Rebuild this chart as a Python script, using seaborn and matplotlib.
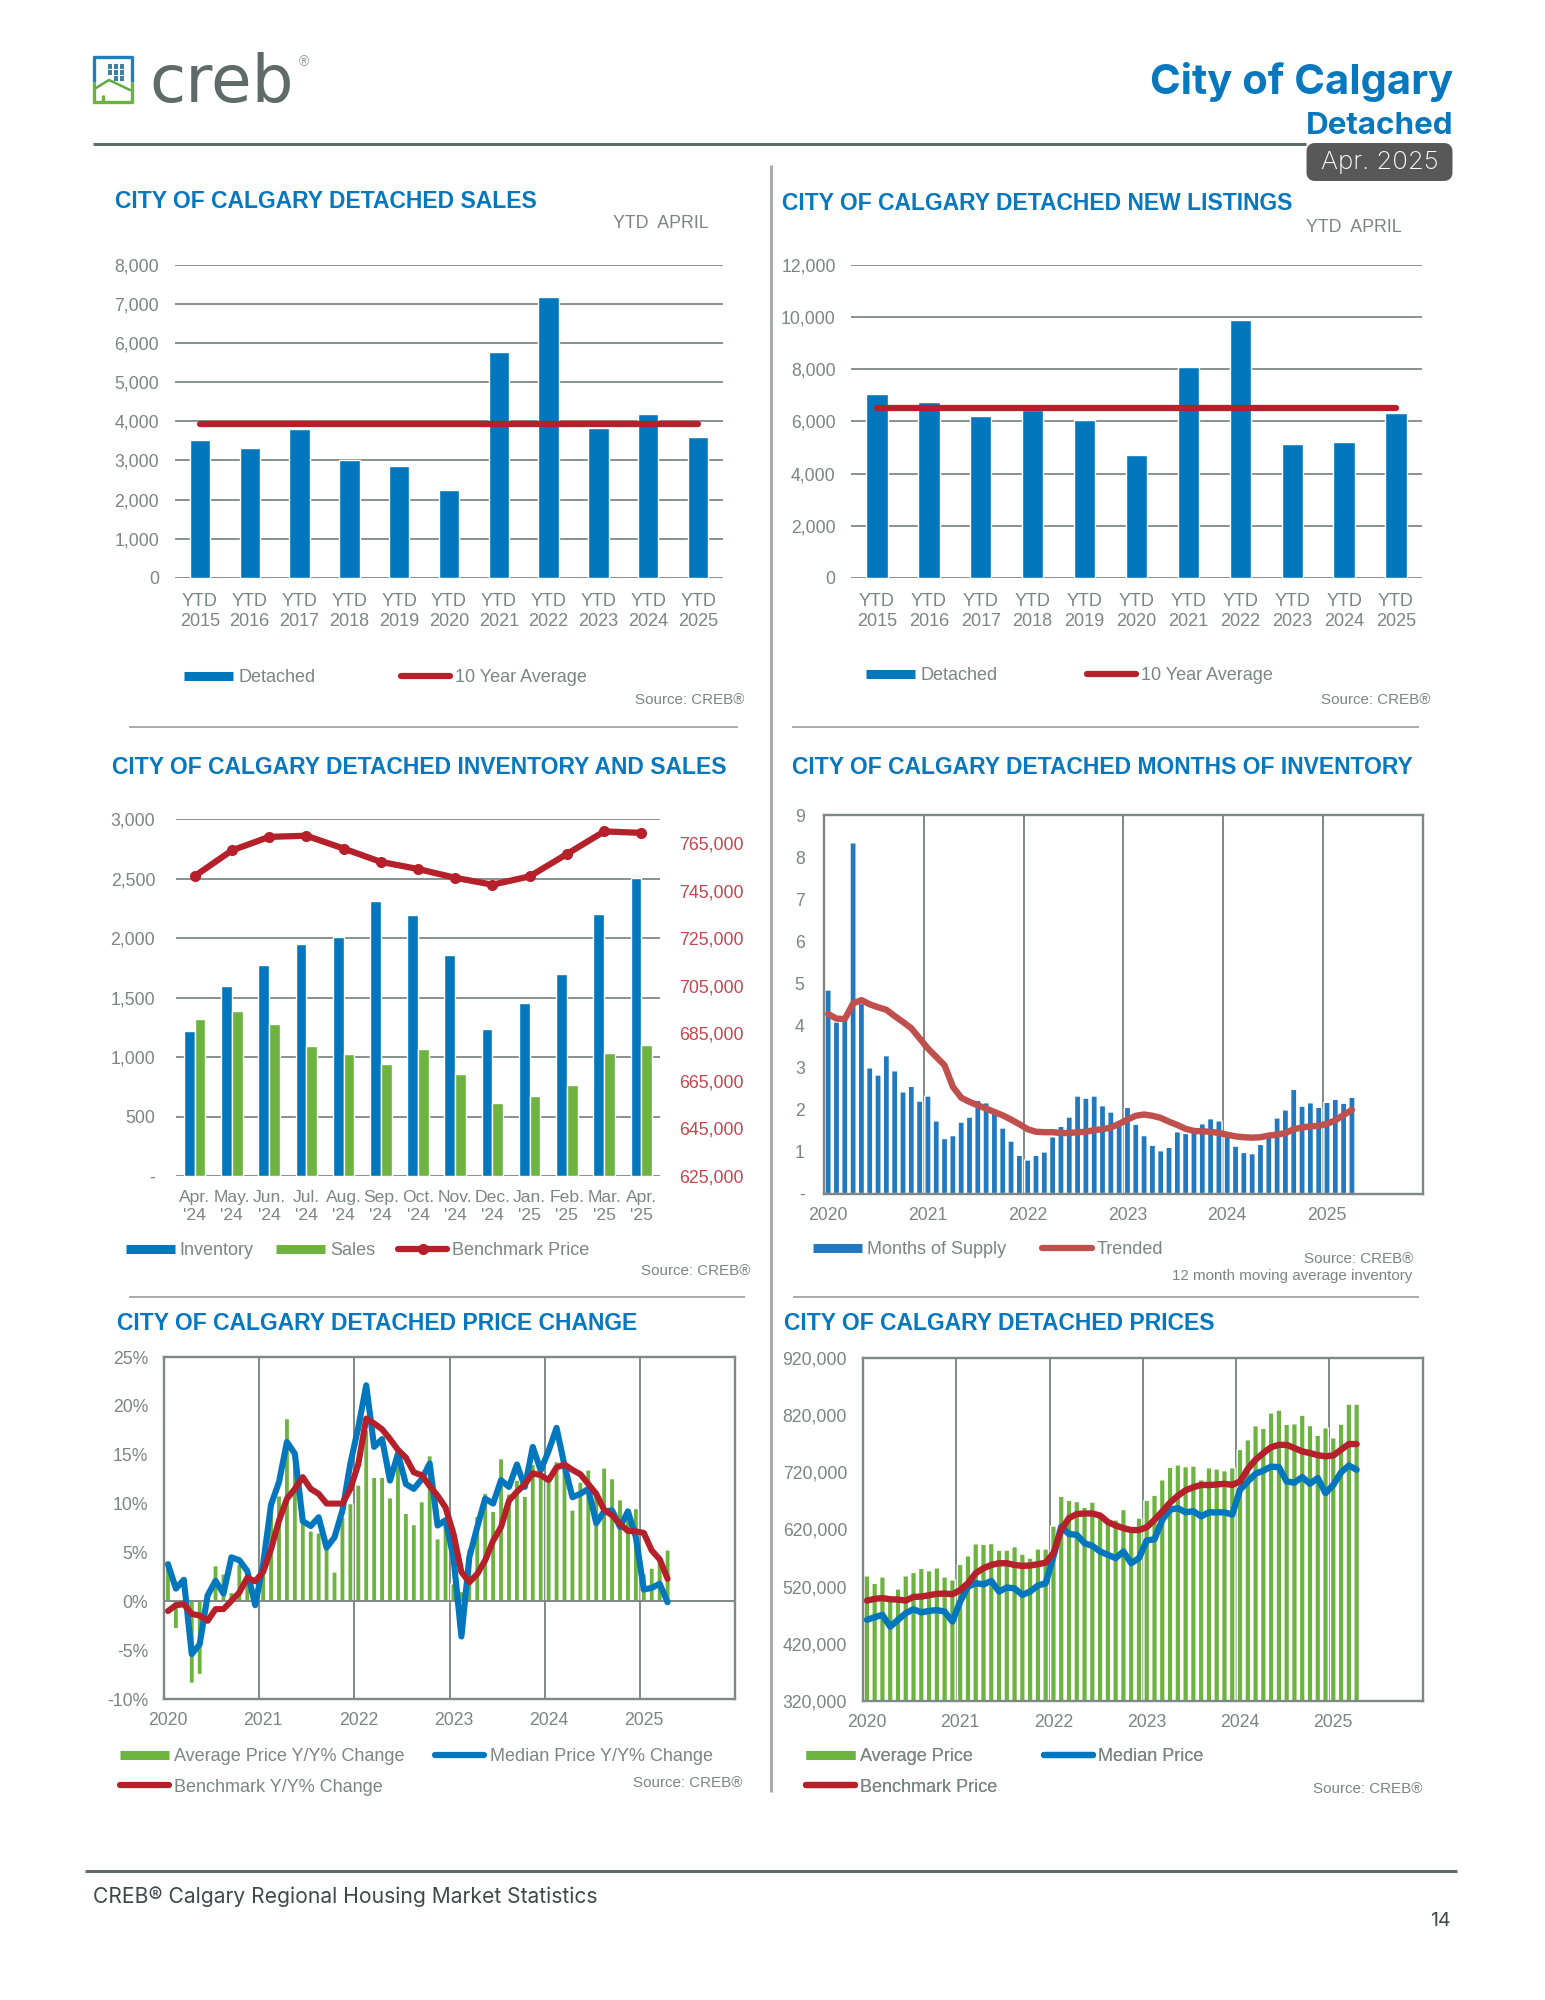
import numpy as np
import pandas as pd
import matplotlib
matplotlib.use('Agg')
import matplotlib.pyplot as plt
import seaborn as sns
from matplotlib.lines import Line2D
from matplotlib.patches import FancyBboxPatch
from matplotlib.ticker import FixedLocator

# ---- data ----
ytd_labels = ['YTD\n2015', 'YTD\n2016', 'YTD\n2017', 'YTD\n2018', 'YTD\n2019', 'YTD\n2020',
              'YTD\n2021', 'YTD\n2022', 'YTD\n2023', 'YTD\n2024', 'YTD\n2025']
ytd_sales = [3530, 3325, 3800, 3020, 2850, 2235, 5780, 7180, 3820, 4175, 3595]
ytd_sales_avg = [3920, 3920, 3920, 3920, 3920, 3920, 3920, 3920, 3920, 3920, 3920]
ytd_listings = [7060, 6750, 6200, 6450, 6050, 4700, 8085, 9880, 5130, 5195, 6325]
ytd_listings_avg = [6513, 6513, 6513, 6513, 6513, 6513, 6513, 6513, 6513, 6513, 6513]

inv_labels = ["Apr.\n'24", "May.\n'24", "Jun.\n'24", "Jul.\n'24", "Aug.\n'24", "Sep.\n'24", "Oct.\n'24",
              "Nov.\n'24", "Dec.\n'24", "Jan.\n'25", "Feb.\n'25", "Mar.\n'25", "Apr.\n'25"]
inventory = [1216, 1600, 1778, 1955, 2012, 2315, 2198, 1859, 1237, 1456, 1700, 2201, 2510]
sales = [1318, 1384, 1276, 1093, 1024, 943, 1069, 862, 610, 673, 766, 1036, 1105]
benchmark_13m = [751100, 761900, 767600, 768100, 762700, 757100, 754100, 750400, 747500, 751000, 760400, 769900, 769300]

year_labels = ['2020', '2021', '2022', '2023', '2024', '2025']

months_supply = [4.84, 4.08, 4.12, 8.34, 4.52, 2.99, 2.82, 3.28, 2.92, 2.42, 2.55, 2.20,
                 2.32, 1.73, 1.31, 1.38, 1.70, 1.82, 2.22, 2.16, 1.98, 1.56, 1.25, 0.91,
                 0.80, 0.91, 0.99, 1.35, 1.60, 1.82, 2.32, 2.27, 2.32, 2.09, 1.94, 1.66,
                 2.05, 1.65, 1.38, 1.15, 1.02, 1.10, 1.47, 1.43, 1.50, 1.66, 1.78, 1.73,
                 1.40, 1.13, 0.98, 0.95, 1.17, 1.36, 1.80, 1.99, 2.48, 2.08, 2.16, 2.05,
                 2.17, 2.24, 2.15, 2.29]
months_trend = [4.27, 4.16, 4.15, 4.52, 4.60, 4.50, 4.43, 4.37, 4.22, 4.08, 3.93, 3.69,
                3.45, 3.25, 3.05, 2.54, 2.28, 2.18, 2.10, 2.02, 1.94, 1.86, 1.76, 1.65,
                1.53, 1.47, 1.46, 1.46, 1.44, 1.44, 1.46, 1.47, 1.51, 1.53, 1.57, 1.66,
                1.76, 1.85, 1.88, 1.85, 1.80, 1.71, 1.63, 1.54, 1.49, 1.48, 1.47, 1.44,
                1.40, 1.36, 1.34, 1.33, 1.34, 1.38, 1.40, 1.44, 1.53, 1.57, 1.60, 1.61,
                1.66, 1.74, 1.87, 1.99]

avg_change = [3.8, -2.8, -0.4, -8.4, -7.5, 0.6, 3.65, 2.8, 0.9, 3.8, 2.1, 0.9,
              4.2, 10.0, 10.8, 18.7, 15.2, 9.0, 7.2, 7.0, 5.5, 3.0, 8.6, 10.0,
              11.9, 17.5, 12.7, 12.7, 10.6, 13.9, 9.0, 7.85, 10.2, 14.9, 6.4, 8.6,
              1.8, 1.0, 5.36, 8.7, 11.06, 9.2, 14.6, 11.0, 12.4, 10.75, 14.0, 12.7,
              12.2, 14.3, 13.9, 9.35, 12.2, 13.45, 11.3, 13.65, 12.56, 10.4, 9.3, 9.5,
              2.8, 3.4, 4.6, 5.26]
median_change = [3.8, 1.3, 2.2, -5.4, -4.4, 0.6, 2.1, 0.8, 4.5, 4.2, 3.1, -0.4,
                 3.8, 9.9, 12.2, 16.3, 15.1, 8.2, 7.7, 8.6, 5.5, 6.55, 9.3, 14.1,
                 17.8, 22.1, 15.8, 16.6, 12.35, 15.1, 12.0, 11.5, 12.5, 14.1, 7.75, 8.3,
                 4.5, -3.6, 4.5, 7.6, 10.5, 10.0, 12.4, 11.7, 14.0, 11.7, 15.8, 13.4,
                 15.4, 17.75, 13.9, 10.65, 11.0, 11.5, 8.0, 9.2, 9.3, 7.6, 9.2, 6.55,
                 1.2, 1.37, 1.8, -0.1]
bench_change = [-1.0, -0.4, -0.3, -1.3, -1.45, -2.0, -0.8, -0.8, 0.05, 0.9, 2.4, 2.05,
                3.0, 5.35, 8.25, 10.5, 11.5, 12.7, 11.5, 11.0, 10.0, 10.0, 10.0, 11.5,
                14.05, 18.7, 18.2, 17.6, 16.6, 15.5, 14.7, 13.2, 12.9, 11.8, 10.8, 9.6,
                6.9, 3.0, 1.95, 2.8, 4.2, 6.2, 7.6, 10.3, 11.2, 12.0, 13.1, 12.9,
                12.4, 13.7, 14.0, 13.45, 13.0, 12.0, 11.0, 9.35, 8.8, 7.9, 7.2, 7.15,
                7.0, 5.2, 4.3, 2.3]

avg_price = [539, 526, 537, 495, 516, 539, 545, 552, 548, 553, 537, 532,
             559, 574, 595, 594, 595.5, 584, 584, 590, 577, 570, 586, 586,
             626, 678, 671, 669, 659, 668, 643, 631, 637, 655, 615, 640,
             671, 680, 707, 729, 733, 730, 731, 707, 728, 726, 723, 728,
             760, 777, 801.5, 797, 824, 829, 804, 805, 820, 802, 785, 798,
             780.5, 804.5, 839.5, 839.5]
median_price = [462, 466.5, 470.6, 450, 462, 473.5, 480.5, 475, 477.6, 479, 476.4, 459,
                494, 520, 526, 524, 530, 511.5, 518.5, 517, 505.6, 511.5, 522, 526,
                573, 625, 612, 610.7, 596, 591.4, 581.5, 575.7, 570, 581.5, 561, 570,
                600.8, 603, 637, 654.5, 657.4, 650, 652, 643, 650, 650, 650, 646,
                689.5, 704, 717.5, 723, 730, 729, 704, 702, 711.7, 700, 710, 683.6,
                698, 720, 732, 724.5]
bench_price = [495.7, 498.6, 500, 498, 497.4, 495.7, 502, 502.7, 505, 507.4, 508, 506.8,
               514, 526, 543.6, 552.3, 558, 561, 561, 558, 556.4, 557, 559.3, 562,
               578.6, 619.4, 640, 647, 648, 648, 644.5, 633, 627, 622.4, 619, 619,
               624, 637, 651.5, 667, 679, 688.6, 694, 698, 697.7, 698.8, 700, 698,
               704, 726, 742, 753.7, 764, 768, 768, 762.5, 756.6, 753.7, 750, 748,
               749.6, 759.5, 769.5, 769.5]

# ---- colours ----
BLUE = '#0277BE'
GREEN = '#6DB33F'
RED = '#B5202B'
TREND = '#C0504D'
BAR4 = '#2279BF'
GRID = '#7F8885'
TXT = '#7B8582'
TITLE = '#0878BE'
DARK = '#5F6B68'

W, H = 1545, 2000
sns.set_theme(style='white')
plt.rcParams['font.family'] = ['Liberation Sans', 'DejaVu Sans']
plt.rcParams['font.size'] = 12.5

fig = plt.figure(figsize=(W / 100, H / 100), dpi=100, facecolor='white')


def panel(l, t, r, b):
    ax = fig.add_axes([l / W, 1 - b / H, (r - l) / W, (b - t) / H])
    ax.set_facecolor('none')
    return ax


def style_hgrid(ax, pad_y, pad_x=10.5, xsize=13, spacing=1.25):
    ax.grid(axis='y', color=GRID, lw=1.3)
    ax.grid(axis='x', visible=False)
    ax.set_axisbelow(True)
    sns.despine(ax=ax, left=True, bottom=True)
    ax.tick_params(axis='y', length=0, pad=pad_y, labelsize=12.7, labelcolor=TXT)
    ax.tick_params(axis='x', length=0, pad=pad_x, labelsize=xsize, labelcolor=TXT)
    for lab in ax.get_xticklabels():
        lab.set_linespacing(spacing)
    ax.set_xlabel('')
    ax.set_ylabel('')


def style_frame(ax, pad_y, pad_x=10):
    # boxed monthly charts: year lines between Dec and Jan, labels under January
    ax.set_xlim(-0.5, 71.5)
    ax.set_xticks(np.arange(0, 72, 12))
    ax.set_xticklabels(year_labels)
    ax.xaxis.set_minor_locator(FixedLocator(np.arange(11.5, 71, 12)))
    ax.grid(which='minor', axis='x', color=GRID, lw=1.4)
    ax.grid(which='major', visible=False)
    ax.set_axisbelow(True)
    for s in ax.spines.values():
        s.set_visible(True)
        s.set_color(GRID)
        s.set_linewidth(1.7)
    ax.tick_params(axis='y', length=0, pad=pad_y, labelsize=12.7, labelcolor=TXT)
    ax.tick_params(axis='x', which='both', length=0, pad=pad_x, labelsize=12.7, labelcolor=TXT)
    ax.set_xlabel('')
    ax.set_ylabel('')
    # thin bars look even when they are not snapped to whole pixels
    for p in ax.patches:
        p.set_snap(False)


def bar_key(color):
    return Line2D([], [], color=color, lw=6.5, solid_capstyle='butt')


def line_key(color, **kw):
    return Line2D([], [], color=color, lw=4.5, solid_capstyle='round', **kw)


# ---- sales ----
ax1 = panel(175, 264.6, 723, 578)
sns.barplot(x=ytd_labels, y=ytd_sales, color=BLUE, saturation=1, width=0.41, ax=ax1)
sns.lineplot(x=np.arange(11), y=ytd_sales_avg, color=RED, lw=4.5, solid_capstyle='round', errorbar=None, ax=ax1)
ax1.set_xlim(-0.5, 10.5)
ax1.set_ylim(0, 8000)
ax1.set_yticks(np.arange(0, 8001, 1000))
ax1.set_yticklabels([f'{v:,}' for v in np.arange(0, 8001, 1000)])
ax1.set_xticks(np.arange(11))
ax1.set_xticklabels(ytd_labels)
style_hgrid(ax1, 11.5)

# ---- new listings ----
ax2 = panel(851, 264.6, 1422, 578)
sns.barplot(x=ytd_labels, y=ytd_listings, color=BLUE, saturation=1, width=0.41, ax=ax2)
sns.lineplot(x=np.arange(11), y=ytd_listings_avg, color=RED, lw=4.5, solid_capstyle='round', errorbar=None, ax=ax2)
ax2.set_xlim(-0.5, 10.5)
ax2.set_ylim(0, 12000)
ax2.set_yticks(np.arange(0, 12001, 2000))
ax2.set_yticklabels([f'{v:,}' for v in np.arange(0, 12001, 2000)])
ax2.set_xticks(np.arange(11))
ax2.set_xticklabels(ytd_labels)
style_hgrid(ax2, 11)

# ---- inventory and sales ----
ax3 = panel(176, 819.3, 660, 1176)
inv_df = pd.DataFrame({'month': inv_labels * 2,
                       'value': inventory + sales,
                       'series': ['Inventory'] * 13 + ['Sales'] * 13})
sns.barplot(data=inv_df, x='month', y='value', hue='series', palette=[BLUE, GREEN], saturation=1,
            width=0.58, gap=0, legend=False, ax=ax3)
ax3.set_xlim(-0.5, 12.5)
ax3.set_ylim(0, 3000)
ax3.set_yticks(np.arange(0, 3001, 500))
ax3.set_yticklabels(['-', '500', '1,000', '1,500', '2,000', '2,500', '3,000'])
style_hgrid(ax3, 15, pad_x=10, xsize=12.6, spacing=1.3)
ax3b = ax3.twinx()
ax3b.set_facecolor('none')
sns.lineplot(x=np.arange(13), y=benchmark_13m, color=RED, lw=4.5, marker='o', markersize=8, markeredgewidth=0,
             errorbar=None, ax=ax3b)
ax3b.set_ylim(625000, 775000)
ax3b.set_yticks(np.arange(625000, 765001, 20000))
ax3b.set_yticklabels([f'{v:,}' for v in np.arange(625000, 765001, 20000)])
ax3b.grid(False)
ax3b.set_ylabel('')
sns.despine(ax=ax3b, left=True, bottom=True, right=True)
ax3b.tick_params(axis='y', length=0, pad=14, labelsize=12.8, labelcolor='#C4474F')

# ---- months of inventory ----
ax4 = panel(824, 815, 1422.6, 1193.6)
months_idx = np.arange(64)
sns.barplot(x=months_idx, y=months_supply, color=BAR4, saturation=1, width=0.74, ax=ax4)
sns.lineplot(x=months_idx, y=months_trend, color=TREND, lw=4.6, errorbar=None, ax=ax4)
ax4.set_ylim(0, 9)
ax4.set_yticks(np.arange(0, 10))
ax4.set_yticklabels(['-', '1', '2', '3', '4', '5', '6', '7', '8', '9'])
style_frame(ax4, 14, pad_x=10)

# ---- price change ----
ax5 = panel(164, 1357, 735, 1699)
sns.barplot(x=months_idx, y=avg_change, color=GREEN, saturation=1, width=0.66, ax=ax5)
ax5.axhline(0, color=GRID, lw=1.4, zorder=1.5)
sns.lineplot(x=months_idx, y=median_change, color=BLUE, lw=4.4, errorbar=None, ax=ax5)
sns.lineplot(x=months_idx, y=bench_change, color=RED, lw=4.4, errorbar=None, ax=ax5)
ax5.set_ylim(-10, 25)
ax5.set_yticks(np.arange(-10, 26, 5))
ax5.set_yticklabels([f'{v}%' for v in np.arange(-10, 26, 5)])
style_frame(ax5, 11.5, pad_x=9.5)

# ---- prices ----
ax6 = panel(863, 1358, 1422.7, 1701)
sns.barplot(x=months_idx, y=np.array(avg_price) * 1000, color=GREEN, saturation=1, width=0.72, ax=ax6)
sns.lineplot(x=months_idx, y=np.array(median_price) * 1000, color=BLUE, lw=4.6, errorbar=None, ax=ax6)
sns.lineplot(x=months_idx, y=np.array(bench_price) * 1000, color=RED, lw=4.6, errorbar=None, ax=ax6)
ax6.set_ylim(320000, 920000)
ax6.set_yticks(np.arange(320000, 920001, 100000))
ax6.set_yticklabels([f'{v:,}' for v in np.arange(320000, 920001, 100000)])
style_frame(ax6, 11.5, pad_x=9.5)

# ---- page furniture on a pixel overlay ----
ov = fig.add_axes([0, 0, 1, 1], zorder=10)
ov.set_xlim(0, W)
ov.set_ylim(H, 0)
ov.axis('off')
ov.patch.set_alpha(0)


def txt(x, y, s, size=12.5, color=TXT, ha='left', va='center', **kw):
    ov.text(x, y, s, fontsize=size, color=color, ha=ha, va=va, **kw)


def rule(x0, x1, y0, y1, color, lw):
    ov.plot([x0, x1], [y0, y1], color=color, lw=lw, solid_capstyle='butt')


rule(93, 1306, 144, 144, DARK, 2.2)
rule(771, 771, 165, 1792, '#A9ABAA', 2.2)
rule(129, 738, 727, 727, '#A9ABAA', 1.4)
rule(792, 1419, 727, 727, '#A9ABAA', 1.4)
rule(129, 745, 1297, 1297, '#A9ABAA', 1.4)
rule(793, 1419, 1297, 1297, '#A9ABAA', 1.4)
rule(85, 1456.5, 1871, 1871, DARK, 2.2)

# logo
rule(94, 94, 56, 82, '#1B7FC0', 2.4)
rule(94, 94, 82, 103, '#6DB33F', 2.4)
rule(132, 132, 56, 82, '#1B7FC0', 2.4)
rule(132, 132, 82, 103, '#6DB33F', 2.4)
rule(93, 133, 57, 57, '#1B7FC0', 2.4)
rule(93, 133, 102, 102, '#6DB33F', 2.4)
ov.plot([96, 109, 130], [88, 80, 90], color='#5FA84A', lw=1.8)
rule(103, 103, 95, 102, '#6DB33F', 2.4)
for wx in [110, 116, 122]:
    for wy in [66, 72, 78]:
        if wx == 110 and wy == 78:
            continue
        ov.add_patch(plt.Rectangle((wx - 2, wy - 2.5), 4, 5, color='#3F7F9F', lw=0))
txt(149, 102, 'creb', size=47.5, color=DARK, va='baseline', family=['DejaVu Sans'])
txt(304, 62, '®', size=10, color='#8F9997', ha='center', family=['Liberation Sans'])

# header
HEAD = ['Inter', 'DejaVu Sans']
txt(1453, 94, 'City of Calgary', size=30, color=TITLE, ha='right', va='baseline', family=HEAD, weight='bold')
txt(1453, 134, 'Detached', size=22.6, color=TITLE, ha='right', va='baseline', family=HEAD, weight='bold')
ov.add_patch(FancyBboxPatch((1310, 146.5), 139, 31, boxstyle='round,pad=0,rounding_size=5', mutation_aspect=1,
                            fc='#585858', ec='#585858', lw=5))
txt(1379.5, 162, 'Apr. 2025', size=18.6, color='white', ha='center', family=HEAD, weight='light')

# chart titles
TS = 16.5
for x, y, t in [(115, 201, 'CITY OF CALGARY DETACHED SALES'),
                (781.5, 203, 'CITY OF CALGARY DETACHED NEW LISTINGS'),
                (112.5, 768, 'CITY OF CALGARY DETACHED INVENTORY AND SALES'),
                (792, 768, 'CITY OF CALGARY DETACHED MONTHS OF INVENTORY'),
                (117, 1323, 'CITY OF CALGARY DETACHED PRICE CHANGE'),
                (784, 1323.5, 'CITY OF CALGARY DETACHED PRICES')]:
    txt(x, y, t, size=TS, color=TITLE, weight='bold')

txt(613, 223, 'YTD  APRIL', size=12.8)
txt(1306, 227, 'YTD  APRIL', size=12.8)

for x, y in [(744, 699.5), (1430, 699.5), (750, 1271), (1413, 1259), (742, 1783), (1422, 1789)]:
    txt(x, y, 'Source: CREB®', size=10.9, ha='right')
txt(1412, 1276, '12 month moving average inventory', size=10.9, ha='right')

# footer
txt(93, 1897, 'CREB® Calgary Regional Housing Market Statistics', size=15.15, color='#3F4A48', family=HEAD)
txt(1440, 1921, '14', size=14, color='#3F4A48', ha='center', family=HEAD)


# legends
def legend(x, y, handles, labels, ncol, colgap, rowgap=0.74, hl=2.72):
    leg = ov.legend(handles, labels, loc='center left', bbox_to_anchor=(x, y), bbox_transform=ov.transData,
                    ncol=ncol, frameon=False, borderpad=0, borderaxespad=0, handlelength=hl, handletextpad=0.28,
                    columnspacing=colgap, labelspacing=rowgap, prop={'size': 13, 'family': 'Liberation Sans'},
                    labelcolor=TXT)
    ov.add_artist(leg)


legend(184, 678, [bar_key(BLUE), line_key(RED)], ['Detached', '10 Year Average'], 2, 4.75)
legend(866, 676, [bar_key(BLUE), line_key(RED)], ['Detached', '10 Year Average'], 2, 4.95)
legend(125.5, 1250.5, [bar_key(BLUE), bar_key(GREEN), line_key(RED, marker='o', markersize=7)],
       ['Inventory', 'Sales', 'Benchmark Price'], 3, 1.25)
legend(813, 1250, [bar_key(BAR4), line_key(TREND)], ['Months of Supply', 'Trended'], 2, 2.0)
legend(120, 1772, [bar_key(GREEN), line_key(RED), line_key(BLUE)],
       ['Average Price Y/Y% Change', 'Benchmark Y/Y% Change', 'Median Price Y/Y% Change'], 2, 1.7)
legend(805.6, 1772, [bar_key(GREEN), line_key(RED), line_key(BLUE)],
       ['Average Price', 'Benchmark Price', 'Median Price'], 2, 2.6)

fig.savefig('out.png', dpi=100, facecolor='white')
